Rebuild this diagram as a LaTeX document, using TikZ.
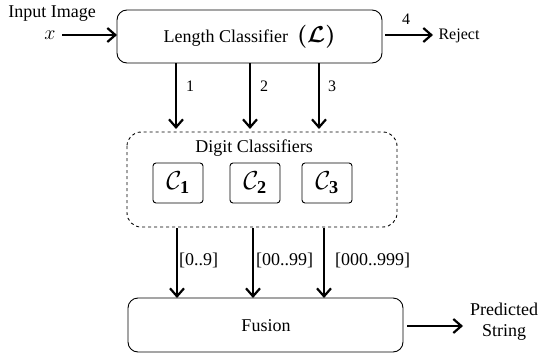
\RequirePackage{fix-cm}
\documentclass[tikz,border=0pt]{standalone}
\usepackage{amsmath}
\usepackage{fontspec}
\setmainfont{Liberation Serif}
\usetikzlibrary{arrows.meta}
\begin{document}
\begin{tikzpicture}[x=1pt,y=-1pt,
  every node/.style={font=\fontsize{18}{21}\selectfont, inner sep=0pt},
  blk/.style={draw, line width=0.9pt, rounded corners=10pt},
  cbox/.style={draw, line width=0.9pt, rounded corners=3pt, minimum width=50pt, minimum height=40pt},
  arr/.style={line width=2.5pt, -{Straight Barb[length=8pt,width=14pt,line width=2.2pt]}},
  lbl/.style={font=\fontsize{16}{18}\selectfont}]
\useasboundingbox (0,0) rectangle (540,353);
% Length classifier
\draw[blk] (117,10) rectangle (382,63);
\node (L) at (249.5,37) {Length Classifier \ {\fontsize{23}{26}\selectfont$\boldsymbol{(\mathcal{L})}$}};
% input
\node (inlbl) at (52,14) {Input Image};
\node (xin) at (50,35) {\fontsize{20}{22}\selectfont$x$};
\coordinate (Lw) at (117,35);
\draw[arr] (62,35) -- (Lw);
% reject
\node (rej) at (459,36) [lbl] {Reject};
\coordinate (Le) at (385,35);
\draw[arr] (Le) -- (433,35);
\node (n4) at (406,19) [lbl] {4};
% arrows down to digit classifiers
\coordinate (a1s) at (176,63); \coordinate (a1e) at (176,129);
\coordinate (a2s) at (250,63); \coordinate (a2e) at (250,129);
\coordinate (a3s) at (319,63); \coordinate (a3e) at (319,129);
\draw[arr] (a1s) -- (a1e);
\draw[arr] (a2s) -- (a2e);
\draw[arr] (a3s) -- (a3e);
\node (n1) at (190,86) [lbl] {1};
\node (n2) at (264,86) [lbl] {2};
\node (n3) at (332,86) [lbl] {3};
% digit classifiers
\draw[dashed, line width=0.9pt, rounded corners=14pt] (127,132) rectangle (397,227);
\node (dc) at (254,148) {Digit Classifiers};
\node[cbox] (c1) at (178,183) {\fontsize{26}{28}\selectfont$\mathcal{C}_{\mathbf{1}}$};
\node[cbox] (c2) at (255,183) {\fontsize{26}{28}\selectfont$\mathcal{C}_{\mathbf{2}}$};
\node[cbox] (c3) at (327,183) {\fontsize{26}{28}\selectfont$\mathcal{C}_{\mathbf{3}}$};
% arrows down to fusion
\coordinate (b1s) at (177,228); \coordinate (b1e) at (177,298);
\coordinate (b2s) at (253,228); \coordinate (b2e) at (253,298);
\coordinate (b3s) at (324,228); \coordinate (b3e) at (324,298);
\draw[arr] (b1s) -- (b1e);
\draw[arr] (b2s) -- (b2e);
\draw[arr] (b3s) -- (b3e);
\node[anchor=west] (r1) at (179,260) {[0..9]};
\node[anchor=west] (r2) at (256,260) {[00..99]};
\node[anchor=west] (r3) at (335,260) {[000..999]};
% fusion
\draw[blk] (128,298) rectangle (403,352);
\node (fus) at (266,326) {Fusion};
\coordinate (Fe) at (407,326);
\draw[arr] (Fe) -- (463,326);
\node[align=center, font=\fontsize{18}{21}\selectfont] (ps) at (504,322) {Predicted\\String};
\end{tikzpicture}
\end{document}
